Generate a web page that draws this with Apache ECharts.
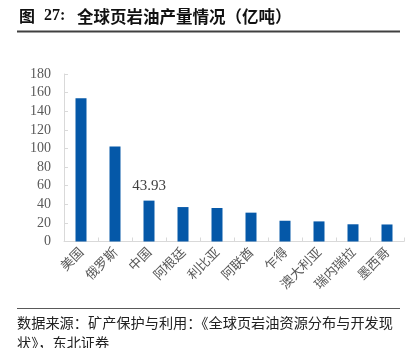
<!DOCTYPE html>
<html>
<head>
<meta charset="utf-8">
<script src="https://cdn.jsdelivr.net/npm/echarts@6/dist/echarts.min.js"></script>
<style>
  html, body { margin: 0; padding: 0; background: #fff; }
  #chart { width: 413px; height: 348px; }
</style>
</head>
<body>
<div id="chart"></div>
<script>
// Global shale oil production by country (100 million tonnes)
const countries = ['美国', '俄罗斯', '中国', '阿根廷', '利比亚', '阿联酋', '乍得', '澳大利亚', '瑞内瑞拉', '墨西哥'];
const production = [154, 102, 43.93, 37, 36, 31, 22.3, 21.6, 18.5, 18.3];
const yTicks = { min: 0, max: 180, step: 20 };
const labelledIndex = 2; // only China carries a value label

const titleFig = '图';
const titleNum = '27:';
const titleText = '全球页岩油产量情况（亿吨）';
const sourceLine1 = '数据来源：矿产保护与利用：《全球页岩油资源分布与开发现';
const sourceLine2 = '状》，东北证券';

const chart = echarts.init(document.getElementById('chart'), null, { renderer: 'canvas' });

const barData = production.map((v, i) => i === labelledIndex
  ? { value: v, label: { show: true } }
  : v);

chart.setOption({
  animation: false,
  backgroundColor: '#ffffff',
  grid: { left: 64, right: 9, top: 74, bottom: 106.5 },
  xAxis: {
    type: 'category',
    data: countries,
    axisLine: { show: true, lineStyle: { color: '#d9d9d9', width: 1 } },
    axisTick: { show: true, inside: true, length: 4, lineStyle: { color: '#d9d9d9' } },
    axisLabel: {
      interval: 0, rotate: 45, margin: 8,
      fontFamily: 'Noto Sans CJK SC', fontSize: 13, color: '#595959'
    },
    splitLine: { show: false }
  },
  yAxis: {
    type: 'value',
    min: yTicks.min, max: yTicks.max, interval: yTicks.step,
    axisLine: { show: true, lineStyle: { color: '#d9d9d9', width: 1 } },
    axisTick: { show: true, inside: true, length: 4, lineStyle: { color: '#d9d9d9' } },
    axisLabel: {
      margin: 13, fontFamily: 'Liberation Serif', fontSize: 14, color: '#595959'
    },
    splitLine: { show: false }
  },
  series: [{
    type: 'bar',
    data: barData,
    barWidth: 11,
    itemStyle: { color: '#0558a8' },
    label: {
      show: false, position: 'top', distance: 7,
      formatter: (p) => p.value.toFixed(2),
      fontFamily: 'Liberation Serif', fontSize: 15, color: '#404040'
    }
  }],
  graphic: [
    { type: 'text', left: 19, top: 8,
      style: { text: titleFig, font: 'bold 16px "Noto Sans CJK SC"', fill: '#111' } },
    { type: 'text', left: 44, top: 8,
      style: { text: titleNum, font: 'bold 16px "Liberation Serif"', fill: '#111' } },
    { type: 'text', left: 77, top: 8,
      style: { text: titleText, font: 'bold 16.5px "Noto Sans CJK SC"', fill: '#111' } },
    { type: 'line', shape: { x1: 17, y1: 31.5, x2: 400, y2: 31.5 },
      style: { stroke: '#404040', lineWidth: 2 } },
    { type: 'line', shape: { x1: 17, y1: 308.5, x2: 400, y2: 308.5 },
      style: { stroke: '#595959', lineWidth: 1.2 } },
    { type: 'text', left: 17, top: 316,
      style: { text: sourceLine1, font: '14.2px "Noto Sans CJK SC"', fill: '#222' } },
    { type: 'text', left: 17, top: 336,
      style: { text: sourceLine2, font: '14.2px "Noto Sans CJK SC"', fill: '#222' } }
  ]
});
</script>
</body>
</html>
